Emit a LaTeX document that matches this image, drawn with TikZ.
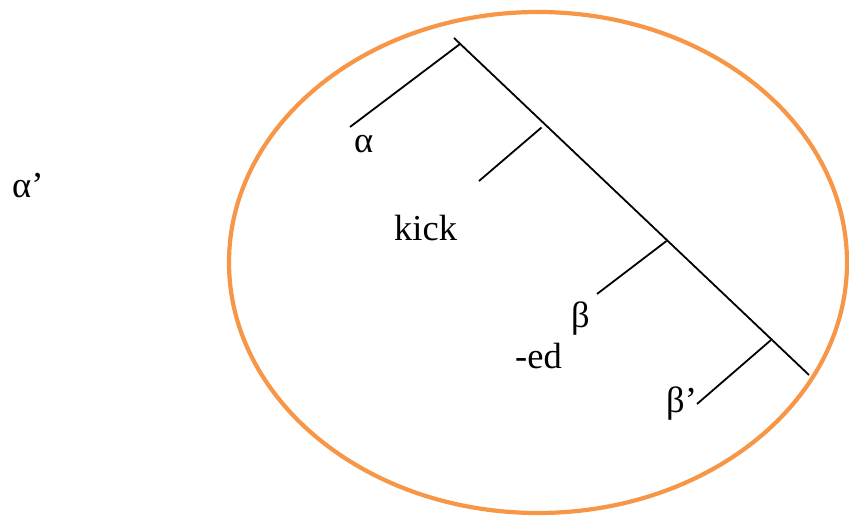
\documentclass[tikz,border=0pt]{standalone}
\usepackage{fontspec}
\setmainfont{Liberation Serif}
\usetikzlibrary{shapes.geometric}
\definecolor{ringorange}{HTML}{F79646}
\begin{document}
\begin{tikzpicture}[x=1pt,y=-1pt,
  treeline/.style={line width=1.8pt,black},
  ring/.style={draw=ringorange,line width=4.2pt},
  lbl/.style={anchor=base west,inner sep=0pt,font=\fontsize{36.5}{42}\selectfont}]
\useasboundingbox (0,0) rectangle (849,516);
\node[ring,ellipse,minimum width=618pt,minimum height=501pt,inner sep=0pt] (oval) at (538,262.5) {};
\coordinate (top) at (454,38);
\coordinate (bot) at (809,375);
\coordinate (j1) at (460,44);
\coordinate (a) at (350,127);
\coordinate (k1) at (541.5,127.5);
\coordinate (k2) at (479,181);
\coordinate (b1) at (666.5,241);
\coordinate (b2) at (597,294);
\coordinate (c1) at (771,340);
\coordinate (c2) at (697,404);
\draw[treeline] (top) -- (bot);
\draw[treeline] (j1) -- (a);
\draw[treeline] (k1) -- (k2);
\draw[treeline] (b1) -- (b2);
\draw[treeline] (c1) -- (c2);
\node[lbl] (alphap) at (12,197) {α’};
\node[lbl] (alpha) at (354,153) {α};
\node[lbl] (kick) at (394,240) {kick};
\node[lbl] (beta) at (571,327) {β};
\node[lbl] (ed) at (515,368) {-ed};
\node[lbl] (betap) at (666,412) {β’};
\end{tikzpicture}
\end{document}
